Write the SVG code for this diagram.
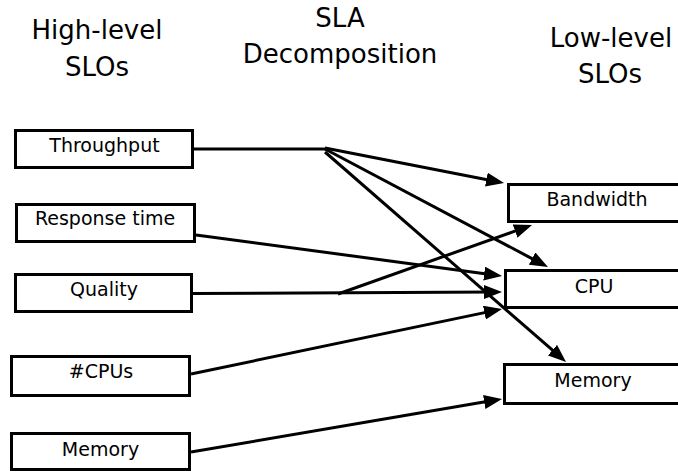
<svg xmlns="http://www.w3.org/2000/svg" width="678" height="472" viewBox="0 0 678 472">
<style>
.box{fill:#fff;stroke:#000;stroke-width:3}
.lbl{font-family:"DejaVu Sans",sans-serif;font-size:19px;fill:#000;text-anchor:middle}
.hdr{font-family:"DejaVu Sans",sans-serif;font-size:26px;fill:#000;text-anchor:middle}
.edge{fill:none;stroke:#000;stroke-width:3}
.arr{marker-end:url(#ah)}
</style>
<defs>
<marker id="ah" markerWidth="18" markerHeight="14" refX="10" refY="7" orient="auto" markerUnits="userSpaceOnUse">
<path d="M0,0 L18,7 L0,14 z" fill="#000"/>
</marker>
</defs>
<rect width="678" height="472" fill="#fff"/>
<g id="headers">
<text class="hdr" x="97" y="39">High-level</text>
<text class="hdr" x="97" y="76">SLOs</text>
<text class="hdr" x="340" y="27">SLA</text>
<text class="hdr" x="340" y="63">Decomposition</text>
<text class="hdr" x="611" y="47">Low-level</text>
<text class="hdr" x="610" y="83">SLOs</text>
</g>
<g id="connectors">
<path class="edge" d="M194,149 L325,149"/>
<path class="edge arr" d="M325,148 L496.2,181.5"/>
<path class="edge arr" d="M325,149 L540.9,263.3"/>
<path class="edge arr" d="M325,152 L560,356.7"/>
<path class="edge arr" d="M196,235 L494.1,274.9"/>
<path class="edge arr" d="M193,293.5 L494,292"/>
<path class="edge arr" d="M338,294 L524.5,227.7"/>
<path class="edge arr" d="M191,374 L494.2,310.6"/>
<path class="edge arr" d="M191,452 L494.1,400.3"/>
</g>
<g id="throughput"><rect class="box" x="15.5" y="130.5" width="177" height="37"/><text class="lbl" x="104.5" y="152">Throughput</text></g>
<g id="response-time"><rect class="box" x="16.5" y="204.5" width="178" height="37"/><text class="lbl" x="105" y="225">Response time</text></g>
<g id="quality"><rect class="box" x="15.5" y="274.5" width="176" height="37"/><text class="lbl" x="104" y="296">Quality</text></g>
<g id="cpus"><rect class="box" x="11.5" y="356.5" width="178" height="39"/><text class="lbl" x="101" y="378">#CPUs</text></g>
<g id="memory-high"><rect class="box" x="11.5" y="433.5" width="178" height="36"/><text class="lbl" x="100.5" y="456">Memory</text></g>
<g id="bandwidth"><rect class="box" x="508.5" y="184.5" width="180" height="37"/><text class="lbl" x="597" y="206">Bandwidth</text></g>
<g id="cpu"><rect class="box" x="505.5" y="270.5" width="180" height="37"/><text class="lbl" x="594" y="293">CPU</text></g>
<g id="memory-low"><rect class="box" x="504.5" y="364.5" width="180" height="39"/><text class="lbl" x="593" y="387">Memory</text></g>
</svg>
